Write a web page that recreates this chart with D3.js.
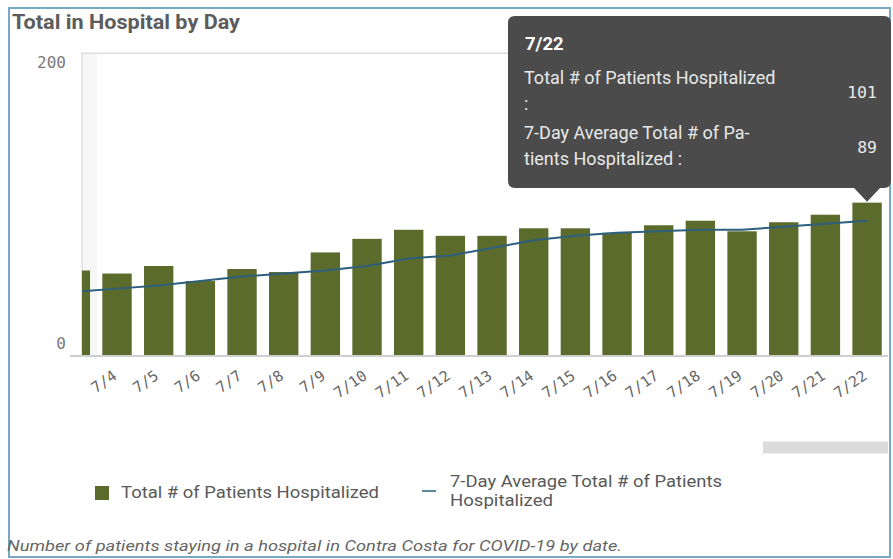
<!DOCTYPE html>
<html>
<head>
<meta charset="utf-8">
<script src="https://cdn.jsdelivr.net/npm/d3@7"></script>
<style>
  body { margin: 0; background: #fff; }
  svg { display: block; }
</style>
</head>
<body>
<svg id="chart" width="893" height="559"></svg>
<script>
// values (first day is scrolled half out of view)
const days = ['7/3','7/4','7/5','7/6','7/7','7/8','7/9','7/10','7/11','7/12','7/13',
              '7/14','7/15','7/16','7/17','7/18','7/19','7/20','7/21','7/22'];
const hospitalized = [56,54,59,49,57,55,68,77,83,79,79,84,84,81,86,89,82,88,93,101];
const avg7 = [42,44,46,49,52,54,56,59,64,66,71,76,79,81,82,83,83,85,87,89];
const yTicks = [0, 200];

const seriesNames = ['Total # of Patients Hospitalized', '7-Day Average Total # of Patients Hospitalized'];

const uiFont = 'Roboto, "Open Sans", sans-serif',
  monoFont = '"DejaVu Sans Mono", "Liberation Mono", monospace',
  barColor = '#5a6b2b', lineColor = '#2d5f7e';

const svg = d3.select('#chart');

let plot = {left: 82, right: 886, top: 53.3, bottom: 355};

// outer frame
svg.append('rect')
  .attr('x', 9).attr('y', 8)
  .attr('width', 881).attr('height', 549)
  .attr('fill', 'none')
  .attr('stroke', '#79a9c2')
  .attr('stroke-width', 2);

// title
svg.append('text')
  .attr('x', 12).attr('y', 29)
  .attr('fill', '#5c5c5c')
  .attr('font-family', uiFont)
  .attr('font-weight', 'bold')
  .attr('font-size', 21)
  .attr('textLength', 228).attr('lengthAdjust', 'spacingAndGlyphs')
  .text('Total in Hospital by Day');

// scales
var x = d3.scaleBand()
  .domain(days)
  .range([54.5, 54.5 + 41.67 * days.length])
  .paddingInner(0.295)
  .paddingOuter(0.1475);
var y = d3.scaleLinear()
  .domain([0, 200])
  .range([plot.bottom, plot.top]);

// plot frame, with the faint scroll shadow at the left
svg.append('rect')
  .attr('x', plot.left).attr('y', plot.top)
  .attr('width', 15).attr('height', plot.bottom - plot.top)
  .attr('fill', '#f6f6f6');
svg.append('path')
  .attr('d', 'M' + plot.left + ',' + plot.bottom + 'V' + plot.top + 'H' + plot.right)
  .attr('fill', 'none')
  .attr('stroke', '#dedede')
  .attr('stroke-width', 1.5);

svg.append('clipPath').attr('id', 'plotclip')
  .append('rect')
  .attr('x', plot.left).attr('y', 0)
  .attr('width', plot.right - plot.left).attr('height', plot.bottom);

let marks = svg.append('g').attr('clip-path', 'url(#plotclip)');

// bars
marks.selectAll('.bar')
  .data(days)
  .enter()
  .append('rect')
    .attr('class', 'bar')
    .attr('x', d => x(d))
    .attr('width', x.bandwidth())
    .attr('y', (d, i) => y(hospitalized[i]))
    .attr('height', (d, i) => y(0) - y(hospitalized[i]))
    .attr('fill', barColor);

// 7 day average
var line = d3.line()
  .x((d, i) => x(days[i]) + x.bandwidth() / 2)
  .y(d => y(d));
marks.append('path')
  .datum(avg7)
  .attr('d', line)
  .attr('fill', 'none')
  .attr('stroke', lineColor)
  .attr('stroke-width', 2);

// baseline
svg.append('line')
  .attr('x1', 70).attr('x2', 888)
  .attr('y1', plot.bottom + 1).attr('y2', plot.bottom + 1)
  .attr('stroke', '#cfcfcf')
  .attr('stroke-width', 2);

// y axis labels
svg.selectAll('.ylab')
  .data(yTicks)
  .enter()
  .append('text')
    .attr('class', 'ylab')
    .attr('x', 66)
    .attr('y', d => y(d) + (d == 0 ? -6 : 15))
    .attr('text-anchor', 'end')
    .attr('fill', '#7a7a7a')
    .attr('font-family', monoFont)
    .attr('font-size', 16)
    .text(d => d);

// x axis labels, rotated
svg.selectAll('.xlab')
  .data(days.filter(d => x(d) + x.bandwidth() / 2 > plot.left))
  .enter()
  .append('text')
    .attr('class', 'xlab')
    .attr('text-anchor', 'end')
    .attr('transform', d => 'translate(' + (x(d) + x.bandwidth() / 2 + 1) + ',378) rotate(-35)')
    .attr('fill', '#666')
    .attr('font-family', monoFont)
    .attr('font-size', 15)
    .text(d => d);

// scrollbar
svg.append('rect')
  .attr('x', 763).attr('y', 441.5)
  .attr('width', 125).attr('height', 12)
  .attr('fill', '#dcdcdc');

// legend
let legend = svg.append('g');
legend.append('rect')
  .attr('x', 95).attr('y', 486)
  .attr('width', 14).attr('height', 14)
  .attr('fill', barColor);
legend.append('text')
  .attr('x', 121).attr('y', 498)
  .attr('fill', '#595959')
  .attr('font-family', uiFont)
  .attr('font-size', 17)
  .attr('textLength', 258).attr('lengthAdjust', 'spacingAndGlyphs')
  .text(seriesNames[0]);
legend.append('line')
  .attr('x1', 422).attr('x2', 436)
  .attr('y1', 491).attr('y2', 491)
  .attr('stroke', lineColor)
  .attr('stroke-width', 1.5);
legend.append('text')
  .attr('x', 450).attr('y', 487)
  .attr('fill', '#595959')
  .attr('font-family', uiFont)
  .attr('font-size', 16)
  .attr('textLength', 272).attr('lengthAdjust', 'spacingAndGlyphs')
  .text('7-Day Average Total # of Patients');
legend.append('text')
  .attr('x', 450).attr('y', 506)
  .attr('fill', '#595959')
  .attr('font-family', uiFont)
  .attr('font-size', 16)
  .attr('textLength', 103).attr('lengthAdjust', 'spacingAndGlyphs')
  .text('Hospitalized');

// caption
svg.append('text')
  .attr('x', 7).attr('y', 551)
  .attr('fill', '#666')
  .attr('font-family', uiFont)
  .attr('font-style', 'italic')
  .attr('font-size', 15.5)
  .attr('textLength', 615).attr('lengthAdjust', 'spacingAndGlyphs')
  .text('Number of patients staying in a hospital in Contra Costa for COVID-19 by date.');

// tooltip for the last day
let last = days.length - 1,
  tipX = x(days[last]) + x.bandwidth() / 2,
  tipY = y(hospitalized[last]) - 1;
let tip = svg.append('g');
tip.append('path')
  .attr('d', 'M515,16 H884 Q891,16 891,23 V181 Q891,188 884,188 H' + (tipX + 13) +
    ' L' + tipX + ',' + tipY + ' L' + (tipX - 13) + ',188 H515 Q508,188 508,181 V23 Q508,16 515,16 Z')
  .attr('fill', '#4b4b4b');
tip.append('text')
  .attr('x', 525).attr('y', 50)
  .attr('fill', '#ffffff')
  .attr('font-family', uiFont)
  .attr('font-weight', 'bold')
  .attr('font-size', 18.5)
  .text(days[last]);

let tipRows = [
  {lines: ['Total # of Patients Hospitalized', ':'], value: hospitalized[last], y: 84, vy: 98},
  {lines: ['7-Day Average Total # of Pa-', 'tients Hospitalized :'], value: avg7[last], y: 139, vy: 153}
];
tipRows.forEach(r => {
  r.lines.forEach((t, j) => {
    tip.append('text')
      .attr('x', 524).attr('y', r.y + j * 26)
      .attr('fill', '#e8e8e8')
      .attr('font-family', uiFont)
      .attr('font-size', 18)
      .text(t);
  });
  tip.append('text')
    .attr('x', 877).attr('y', r.vy)
    .attr('text-anchor', 'end')
    .attr('fill', '#e8e8e8')
    .attr('font-family', monoFont)
    .attr('font-size', 16.5)
    .text(r.value);
});
</script>
</body>
</html>
